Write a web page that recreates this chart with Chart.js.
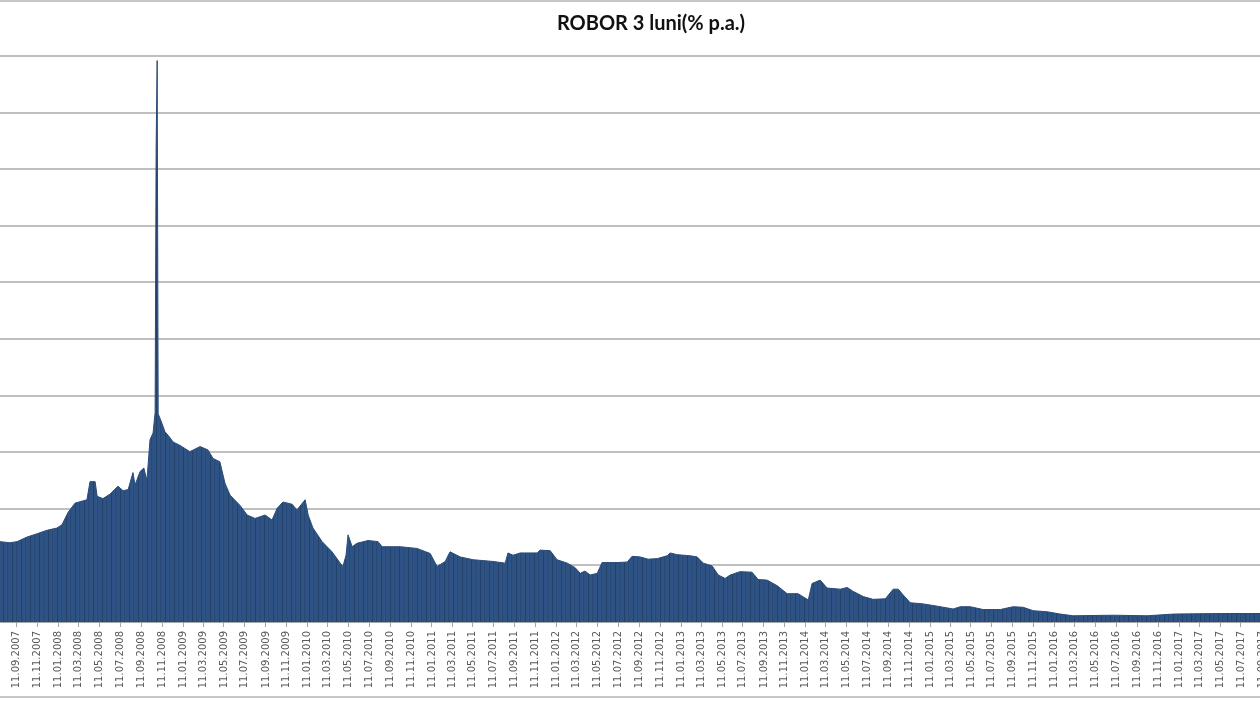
<!DOCTYPE html>
<html>
<head>
<meta charset="utf-8">
<title>ROBOR 3 luni</title>
<script src="https://cdn.jsdelivr.net/npm/chart.js@4.4.1/dist/chart.umd.min.js"></script>
<style>
    html, body { margin: 0; padding: 0; background: #ffffff; }
    #wrap { width: 1260px; height: 712px; }
</style>
</head>
<body>
<div id="wrap"><canvas id="roborChart" width="1260" height="712"></canvas></div>
<script>
// Titlul graficului
const chartTitle = 'ROBOR 3 luni(% p.a.)';

// Date (data, valoare % p.a.)
const rateDates = [
    '2007-07-24', '2007-08-22', '2007-09-12', '2007-10-11', '2007-11-10', '2007-12-09',
    '2008-01-07', '2008-01-22', '2008-02-09', '2008-02-29', '2008-04-04', '2008-04-13',
    '2008-04-28', '2008-05-04', '2008-05-21', '2008-06-11', '2008-07-04', '2008-07-19',
    '2008-08-03', '2008-08-17', '2008-08-23', '2008-09-07', '2008-09-18', '2008-09-27',
    '2008-10-06', '2008-10-15', '2008-10-21', '2008-10-24', '2008-10-27', '2008-10-30',
    '2008-11-10', '2008-11-19', '2008-11-28', '2008-12-13', '2009-01-02', '2009-01-31',
    '2009-03-02', '2009-03-25', '2009-04-09', '2009-04-29', '2009-05-14', '2009-05-29',
    '2009-06-27', '2009-07-18', '2009-08-10', '2009-09-09', '2009-09-29', '2009-10-14',
    '2009-10-31', '2009-11-27', '2009-12-11', '2010-01-04', '2010-01-13', '2010-01-27',
    '2010-02-23', '2010-03-24', '2010-04-17', '2010-04-25', '2010-05-04', '2010-05-10',
    '2010-05-22', '2010-06-05', '2010-07-08', '2010-08-06', '2010-08-18', '2010-10-10',
    '2010-11-28', '2011-01-06', '2011-01-26', '2011-02-19', '2011-03-05', '2011-04-04',
    '2011-05-12', '2011-07-09', '2011-08-14', '2011-08-22', '2011-09-06', '2011-09-27',
    '2011-11-16', '2011-11-24', '2011-12-24', '2012-01-13', '2012-02-12', '2012-03-06',
    '2012-03-21', '2012-04-04', '2012-04-19', '2012-05-10', '2012-05-24', '2012-07-07',
    '2012-08-06', '2012-08-20', '2012-09-13', '2012-10-06', '2012-11-02', '2012-12-01',
    '2012-12-10', '2012-12-30', '2013-02-06', '2013-02-27', '2013-03-17', '2013-04-12',
    '2013-04-30', '2013-05-20', '2013-06-04', '2013-07-03', '2013-08-07', '2013-08-25',
    '2013-09-20', '2013-10-20', '2013-11-18', '2013-12-20', '2014-01-19', '2014-01-30',
    '2014-02-23', '2014-03-15', '2014-04-23', '2014-05-13', '2014-05-31', '2014-06-29',
    '2014-07-28', '2014-09-02', '2014-09-25', '2014-10-10', '2014-10-24', '2014-11-14',
    '2014-12-22', '2015-02-01', '2015-03-20', '2015-04-10', '2015-05-09', '2015-06-16',
    '2015-08-05', '2015-09-12', '2015-10-11', '2015-11-10', '2015-12-21', '2016-01-28',
    '2016-03-06', '2016-07-02', '2016-10-09', '2016-12-25', '2017-05-11', '2017-09-05'
];
const rateValues = [
    7.1, 7.0, 7.1, 7.5, 7.8, 8.1,
    8.3, 8.6, 9.7, 10.5, 10.8, 12.4,
    12.4, 11.1, 10.9, 11.3, 12.0, 11.6,
    11.7, 13.2, 12.1, 13.3, 13.6, 12.5,
    16.1, 16.7, 18.5, 42.0, 49.6, 18.4,
    17.55, 16.8, 16.5, 15.9, 15.6, 15.05,
    15.5, 15.2, 14.45, 14.15, 12.25, 11.2,
    10.3, 9.45, 9.15, 9.45, 9.0, 10.05,
    10.6, 10.4, 9.9, 10.8, 9.45, 8.3,
    7.1, 6.2, 5.2, 4.9, 5.9, 7.7,
    6.65, 6.95, 7.2, 7.1, 6.65, 6.65,
    6.5, 6.05, 4.9, 5.35, 6.2, 5.75,
    5.5, 5.35, 5.2, 6.1, 5.9, 6.1,
    6.1, 6.35, 6.3, 5.5, 5.2, 4.8,
    4.3, 4.5, 4.15, 4.3, 5.25, 5.25,
    5.3, 5.8, 5.75, 5.55, 5.6, 5.85,
    6.1, 5.95, 5.85, 5.75, 5.2, 4.95,
    4.15, 3.85, 4.15, 4.45, 4.4, 3.75,
    3.7, 3.2, 2.5, 2.5, 1.95, 3.4,
    3.7, 3.0, 2.9, 3.05, 2.7, 2.25,
    2.0, 2.05, 2.9, 2.9, 2.4, 1.7,
    1.6, 1.4, 1.15, 1.35, 1.35, 1.1,
    1.1, 1.35, 1.3, 1.0, 0.9, 0.7,
    0.55, 0.6, 0.55, 0.7, 0.75, 0.75
];

// Etichetele axei X (din doua in doua luni)
const tickLabels = [
    '11.07.2007', '11.09.2007', '11.11.2007', '11.01.2008', '11.03.2008', '11.05.2008',
    '11.07.2008', '11.09.2008', '11.11.2008', '11.01.2009', '11.03.2009', '11.05.2009',
    '11.07.2009', '11.09.2009', '11.11.2009', '11.01.2010', '11.03.2010', '11.05.2010',
    '11.07.2010', '11.09.2010', '11.11.2010', '11.01.2011', '11.03.2011', '11.05.2011',
    '11.07.2011', '11.09.2011', '11.11.2011', '11.01.2012', '11.03.2012', '11.05.2012',
    '11.07.2012', '11.09.2012', '11.11.2012', '11.01.2013', '11.03.2013', '11.05.2013',
    '11.07.2013', '11.09.2013', '11.11.2013', '11.01.2014', '11.03.2014', '11.05.2014',
    '11.07.2014', '11.09.2014', '11.11.2014', '11.01.2015', '11.03.2015', '11.05.2015',
    '11.07.2015', '11.09.2015', '11.11.2015', '11.01.2016', '11.03.2016', '11.05.2016',
    '11.07.2016', '11.09.2016', '11.11.2016', '11.01.2017', '11.03.2017', '11.05.2017',
    '11.07.2017', '11.09.2017'
];

// Intervalul vizibil si scala Y
const xStart = '2007-07-24';
const xEnd = '2017-09-05';
const yMin = 0;
const yMax = 50;
const yStep = 5;

const barColor = '#2d5180';
const gridColor = '#c0c0c0';

function isoToDay(iso) {
    const p = iso.split('-');
    return Date.UTC(+p[0], +p[1] - 1, +p[2]) / 86400000;
}

function labelToDay(lbl) {
    const p = lbl.split('.');
    return Date.UTC(+p[2], +p[1] - 1, +p[0]) / 86400000;
}

const points = rateDates.map((d, i) => ({ x: isoToDay(d), y: rateValues[i] }));

// Textura de coloane subtiri (ca la graficul Excel cu bare zilnice)
function columnPattern() {
    const c = document.createElement('canvas');
    c.width = 9;
    c.height = 4;
    const g = c.getContext('2d');
    const cols = ['#2e5282', '#2d5180', '#2f5483', '#23426b', '#2e5282',
                  '#2d5180', '#30558a', '#27497a', '#2d5180'];
    cols.forEach((col, i) => {
        g.fillStyle = col;
        g.fillRect(i, 0, 1, 4);
    });
    return g.createPattern(c, 'repeat');
}

// Chenarul graficului (liniile de sus si de jos)
const framePlugin = {
    id: 'frame',
    beforeDraw(chart) {
        const ctx = chart.ctx;
        ctx.save();
        ctx.strokeStyle = '#c8c8c8';
        ctx.lineWidth = 2;
        ctx.beginPath();
        ctx.moveTo(0, 1);
        ctx.lineTo(chart.width, 1);
        ctx.moveTo(0, chart.height - 15);
        ctx.lineTo(chart.width, chart.height - 15);
        ctx.stroke();
        ctx.restore();
    }
};

// Titlul (centrat pe graficul original, care este decupat in stanga)
const titlePlugin = {
    id: 'excelTitle',
    afterDraw(chart) {
        const ctx = chart.ctx;
        ctx.save();
        ctx.font = 'bold 20px Lato, "Open Sans", sans-serif';
        ctx.fillStyle = '#111111';
        ctx.textAlign = 'center';
        ctx.textBaseline = 'middle';
        ctx.fillText(chartTitle, 651, 24);
        ctx.restore();
    }
};

new Chart(document.getElementById('roborChart').getContext('2d'), {
    type: 'line',
    data: {
        datasets: [{
            label: chartTitle,
            data: points,
            borderColor: '#2a4b78',
            backgroundColor: columnPattern(),
            borderWidth: 1,
            fill: 'origin',
            pointRadius: 0,
            tension: 0
        }]
    },
    options: {
        responsive: false,
        animation: false,
        devicePixelRatio: 1,
        layout: { padding: { top: 56, left: 0, right: 0, bottom: 15 } },
        scales: {
            x: {
                type: 'linear',
                min: isoToDay(xStart),
                max: isoToDay(xEnd),
                afterBuildTicks(scale) {
                    scale.ticks = tickLabels.map(l => ({ value: labelToDay(l), lbl: l }));
                },
                afterFit(scale) {
                    scale.paddingLeft = 0;
                    scale.paddingRight = 0;
                    scale.height = 75;
                },
                ticks: {
                    autoSkip: false,
                    minRotation: 90,
                    maxRotation: 90,
                    padding: 4,
                    color: '#595959',
                    font: { family: 'DejaVu Sans', size: 10 },
                    callback: (value, index, ticks) => ticks[index].lbl
                },
                grid: {
                    drawOnChartArea: false,
                    drawTicks: true,
                    tickLength: 5,
                    color: '#a6a6a6'
                },
                border: { display: true, color: '#a6a6a6', width: 1 }
            },
            y: {
                min: yMin,
                max: yMax,
                ticks: { display: false, stepSize: yStep },
                grid: { color: gridColor, lineWidth: 2, drawTicks: false },
                border: { display: false }
            }
        },
        plugins: {
            legend: { display: false },
            title: { display: false },
            tooltip: { enabled: false }
        }
    },
    plugins: [framePlugin, titlePlugin]
});
</script>
</body>
</html>
